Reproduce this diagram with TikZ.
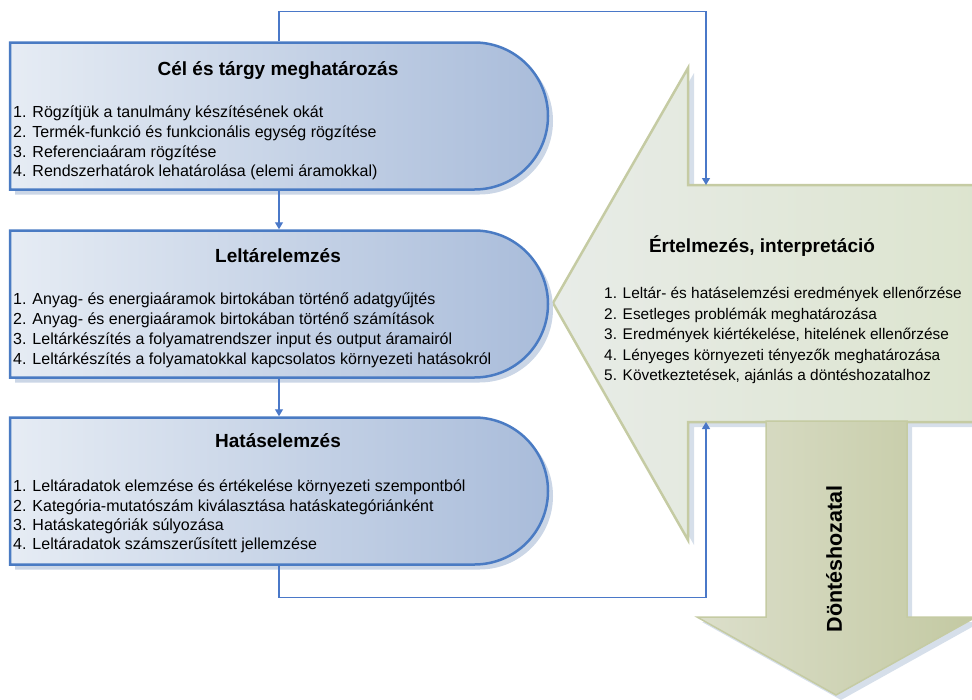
\documentclass[tikz,border=0pt]{standalone}
\usepackage{fontspec}
\setmainfont{Liberation Sans}
\usetikzlibrary{shapes.misc,shadows,arrows.meta}
\definecolor{boxline}{HTML}{4A7BC3}
\definecolor{boxlight}{HTML}{E6ECF4}
\definecolor{boxdark}{HTML}{A9BCDA}
\definecolor{boxshadow}{HTML}{CBD6E6}
\definecolor{connc}{HTML}{4A78C8}
\definecolor{grline}{HTML}{C5CBA3}
\definecolor{grlight}{HTML}{E8ECE8}
\definecolor{grdark}{HTML}{DCE4CE}
\definecolor{dnlight}{HTML}{DCDFCB}
\definecolor{dndark}{HTML}{C3C9A2}
\definecolor{grshadow}{HTML}{D6DFEA}
\tikzset{
  phasebox/.style={rounded rectangle, rounded rectangle west arc=none,
    draw=boxline, line width=2.5pt, left color=boxlight, right color=boxdark,
    minimum width=538pt, minimum height=147pt, inner sep=0pt,
    drop shadow={shadow xshift=5pt, shadow yshift=-5pt, fill=boxshadow, opacity=1}},
  head/.style={font=\fontsize{19}{22}\selectfont\bfseries, anchor=base},
  item/.style={font=\fontsize{16}{18}\selectfont, anchor=base west, inner sep=0pt},
  ritem/.style={font=\fontsize{15.4}{18}\selectfont, anchor=base west, inner sep=0pt},
  conn/.style={draw=connc, line width=1.3pt, -{Triangle[width=8pt,length=7pt]}},
}
\begin{document}
\begin{tikzpicture}[x=1pt,y=-1pt]
\useasboundingbox (0,0) rectangle (972,699);
% ---- green interpretation arrow
\fill[grshadow] (559,308) -- (694,73) -- (694,190) -- (985,190) -- (985,427) -- (694,427) -- (694,545) -- cycle;
\draw[draw=grline, line width=2.5pt, left color=grlight, right color=grdark]
  (553,303) -- (688,68) -- (688,185) -- (985,185) -- (985,422) -- (688,422) -- (688,540) -- cycle;
% ---- down arrow
\fill[grshadow] (771,426) -- (912,426) -- (912,622) -- (981,622) -- (841,700) -- (702,622) -- (771,622) -- cycle;
\draw[draw=grline, line width=1.5pt, left color=dnlight, right color=dndark]
  (766,421) -- (907,421) -- (907,617) -- (976,617) -- (836,695) -- (697,617) -- (766,617) -- cycle;
\coordinate (topin) at (706,185);
\coordinate (botin) at (706,422);
% ---- phase boxes
\node[phasebox] (cel) at (279,116) {};
\node[phasebox] (lelt) at (279,304) {};
\node[phasebox] (hat) at (279,491) {};
% ---- connectors
\draw[conn] (cel.south) -- (lelt.north);
\draw[conn] (lelt.south) -- (hat.north);
\draw[conn] (cel.north) -- ++(0,-30) -| (topin);
\draw[conn] (hat.south) -- ++(0,32) -| (botin);
% ---- texts box 1
\node[head] (celh) at (278,75) {Cél és tárgy meghatározás};
\node[item] (c1) at (13,117) {1. Rögzítjük a tanulmány készítésének okát};
\node[item] (c2) at (13,137) {2. Termék-funkció és funkcionális egység rögzítése};
\node[item] (c3) at (13,157) {3. Referenciaáram rögzítése};
\node[item] (c4) at (13,176.5) {4. Rendszerhatárok lehatárolása (elemi áramokkal)};
% ---- texts box 2
\node[head] (lelth) at (278,262) {Leltárelemzés};
\node[item] (l1) at (13,304) {1. Anyag- és energiaáramok birtokában történő adatgyűjtés};
\node[item] (l2) at (13,324) {2. Anyag- és energiaáramok birtokában történő számítások};
\node[item] (l3) at (13,344) {3. Leltárkészítés a folyamatrendszer input és output áramairól};
\node[item] (l4) at (13,364) {4. Leltárkészítés a folyamatokkal kapcsolatos környezeti hatásokról};
% ---- texts box 3
\node[head] (hath) at (278,447) {Hatáselemzés};
\node[item] (h1) at (13,491) {1. Leltáradatok elemzése és értékelése környezeti szempontból};
\node[item] (h2) at (13,511) {2. Kategória-mutatószám kiválasztása hatáskategóriánként};
\node[item] (h3) at (13,530) {3. Hatáskategóriák súlyozása};
\node[item] (h4) at (13,549) {4. Leltáradatok számszerűsített jellemzése};
% ---- interpretation texts
\node[head] (erth) at (762,252) {Értelmezés, interpretáció};
\node[ritem] (e1) at (604,298.5) {1. Leltár- és hatáselemzési eredmények ellenőrzése};
\node[ritem] (e2) at (604,319) {2. Esetleges problémák meghatározása};
\node[ritem] (e3) at (604,339.5) {3. Eredmények kiértékelése, hitelének ellenőrzése};
\node[ritem] (e4) at (604,360) {4. Lényeges környezeti tényezők meghatározása};
\node[ritem] (e5) at (604,380.5) {5. Következtetések, ajánlás a döntéshozatalhoz};
% ---- decision text
\node[font=\fontsize{21.5}{24}\selectfont\bfseries, rotate=90] (dont) at (834,559) {Döntéshozatal};
\end{tikzpicture}
\end{document}
